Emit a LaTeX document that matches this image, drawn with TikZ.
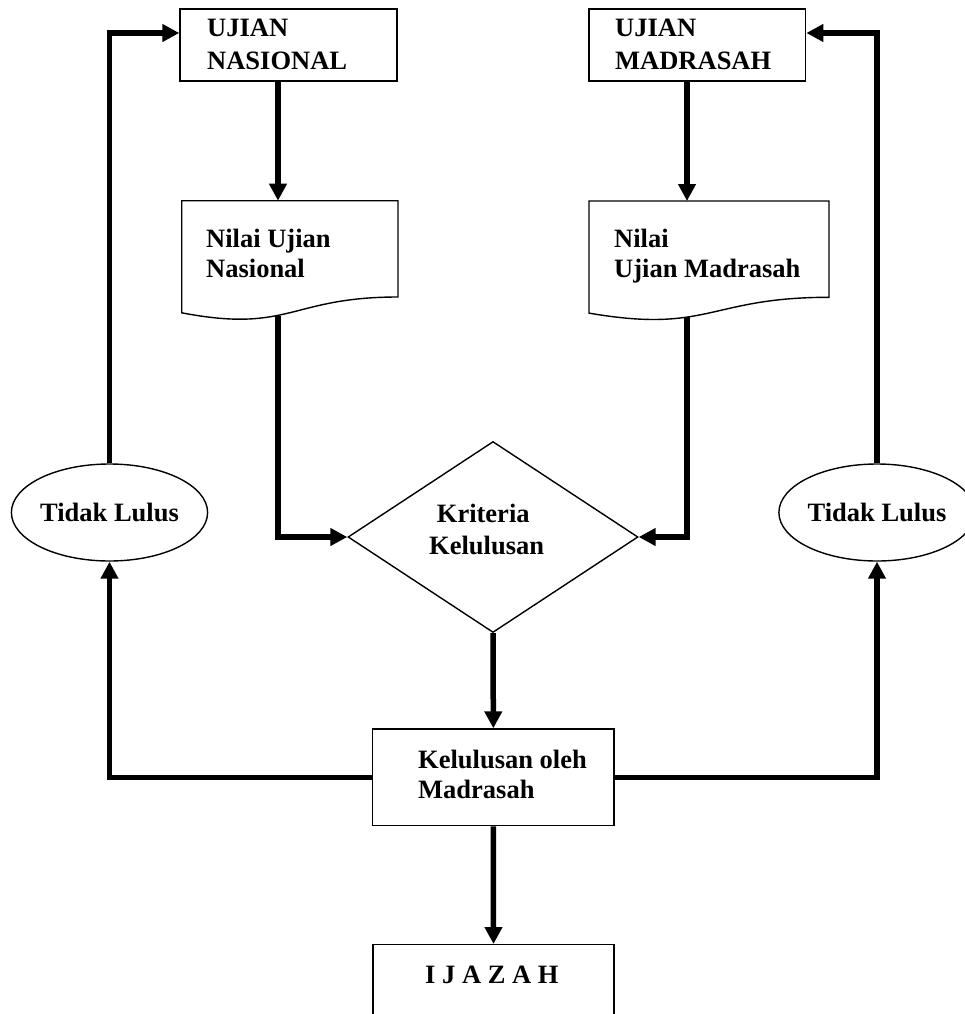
\documentclass[tikz,border=0pt]{standalone}
\usepackage{fontspec}
\setmainfont{Liberation Serif}
\usetikzlibrary{arrows.meta,shapes.geometric,calc}
\begin{document}
\begin{tikzpicture}[x=1pt,y=-1pt,
  lbl/.style={anchor=base west, inner sep=0pt, font=\fontsize{26.5}{30}\selectfont\bfseries},
  boxn/.style={draw, line width=1.4pt, rectangle, inner sep=0pt},
  docn/.style={rectangle, inner sep=0pt, outer sep=0pt},
  docline/.style={line width=1.4pt, line join=miter},
  conn/.style={line width=5.5pt, -{Triangle[length=17pt,width=17pt]}},
  ell/.style={draw, ellipse, line width=1.4pt, inner sep=0pt, minimum width=194pt, minimum height=97pt, font=\fontsize{26.5}{30}\selectfont\bfseries},
  dec/.style={draw, diamond, line width=1.4pt, inner sep=0pt, minimum width=290pt, minimum height=191pt}
]
\useasboundingbox (0,0) rectangle (965,1014);
\clip (0,0) rectangle (965,1014);

% top boxes
\node[boxn, minimum width=217pt, minimum height=72pt] (un) at (288.5,45) {};
\node[lbl] (unT1) at (207,37) {UJIAN};
\node[lbl] (unT2) at (207,70) {NASIONAL};

\node[boxn, minimum width=216.7pt, minimum height=72pt] (um) at (697.35,45) {};
\node[lbl] (umT1) at (615,37) {UJIAN};
\node[lbl] (umT2) at (615,69.5) {MADRASAH};

% documents
\node[docn, minimum width=216.3pt, minimum height=120pt] (nilaiN) at (289.85,260.7) {};
\node[docn, minimum width=240pt, minimum height=120pt] (nilaiM) at (709,261) {};

% connectors
\draw[conn] ([xshift=-10.5pt]un.south) -- ([xshift=-10.5pt]un.south |- nilaiN.north);
\draw[conn] ([xshift=-10.35pt]um.south) -- ([xshift=-10.35pt]um.south |- nilaiM.north);

\draw[docline] (nilaiN.north west) -- (nilaiN.north east) -- ($(nilaiN.north east)+(0,96.3)$)
  .. controls ($(nilaiN.north)+(0,96.3)$) and ($(nilaiN.north)+(0,132.9)$) .. ($(nilaiN.north west)+(0,112.1)$) -- cycle;
\node[lbl] (nnT1) at (206,247) {Nilai Ujian};
\node[lbl] (nnT2) at (206,277) {Nasional};

\draw[docline] (nilaiM.north west) -- (nilaiM.north east) -- ($(nilaiM.north east)+(0,96.3)$)
  .. controls ($(nilaiM.north)+(0,96.3)$) and ($(nilaiM.north)+(0,132.9)$) .. ($(nilaiM.north west)+(0,112.1)$) -- cycle;
\node[lbl] (nmT1) at (614,247) {Nilai};
\node[lbl] (nmT2) at (614,277) {Ujian Madrasah};

% decision
\node[dec] (krit) at (493,537) {};
\node[lbl] (kT1) at (436.7,522.7) {Kriteria};
\node[lbl] (kT2) at (429,554) {Kelulusan};

% ellipses
\node[ell] (tlL) at (109.5,512.5) {Tidak Lulus};
\node[ell] (tlR) at (877,512.5) {Tidak Lulus};

% kelulusan
\node[boxn, minimum width=241.3pt, minimum height=96.7pt] (kel) at (493.35,777.35) {};
\node[lbl] (kelT1) at (418,768) {Kelulusan oleh};
\node[lbl] (kelT2) at (418,798) {Madrasah};

% ijazah
\node[boxn, minimum width=241pt, minimum height=120pt] (ijazah) at (493.5,1004.7) {};
\node[lbl] (ijT) at (425,983) {I J A Z A H};

% connectors
\draw[conn] ([xshift=-11.85pt,yshift=5pt]nilaiN.south) |- (krit.west);
\draw[conn] ([xshift=-22pt,yshift=4pt]nilaiM.south) |- (krit.east);
\draw[conn] (krit.south) -- (kel.north);
\draw[conn] (kel.south) -- (ijazah.north);
\draw[conn] (kel.west) -| (tlL.south);
\draw[conn] (kel.east) -| (tlR.south);
\draw[conn] (tlL.north) |- ([yshift=12pt]un.west);
\draw[conn] (tlR.north) |- ([yshift=12pt]um.east);
\end{tikzpicture}
\end{document}
